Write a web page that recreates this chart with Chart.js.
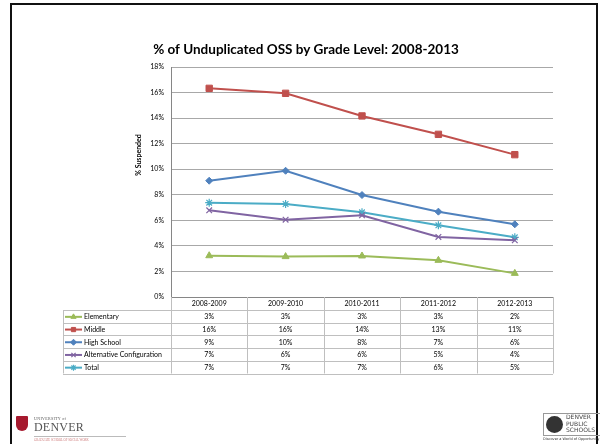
<!DOCTYPE html>
<html>
<head>
<meta charset="utf-8">
<script src="https://cdn.jsdelivr.net/npm/chart.js@4.4.0/dist/chart.umd.min.js"></script>
<style>
  body { margin: 0; background: #fff; }
  #wrap { position: relative; width: 600px; height: 444px; overflow: hidden; }
  #frame { position: absolute; left: 10px; top: 3px; width: 584px; height: 520px; border: 2px solid #111; }
  .du { position: absolute; left: 16px; top: 416px; font-family: "Liberation Serif", serif; color: #555; }
  .du .shield { position: absolute; left: 0; top: 0; width: 12px; height: 15px; background: #a6192e; border-radius: 1px 1px 6px 6px; }
  .du .small { position: absolute; left: 18px; top: 0; font-size: 4px; letter-spacing: 0.3px; white-space: nowrap; }
  .du .big { position: absolute; left: 18px; top: 4px; font-size: 12px; letter-spacing: 0.2px; }
  .du .tag { position: absolute; left: 18px; top: 20px; width: 92px; font-size: 3px; color: #c77; border-top: 1px solid #bbb; padding-top: 1px; white-space: nowrap; }
  .dps { position: absolute; left: 543px; top: 413px; width: 60px; height: 21px; border: 1px solid #999; font-family: "DejaVu Sans", sans-serif; }
  .dps .seal { position: absolute; left: 2px; top: 2px; width: 17px; height: 17px; border-radius: 50%; background: #333; }
  .dps .txt { position: absolute; left: 22px; top: 0px; font-size: 6px; line-height: 6.7px; color: #444; }
  .dps-tag { position: absolute; left: 543px; top: 437px; font-size: 3.5px; color: #333; font-family: "DejaVu Sans", sans-serif; white-space: nowrap; }
</style>
</head>
<body>
<div id="wrap">
  <canvas id="chart" width="600" height="444"></canvas>
  <div id="frame"></div>
  <div class="du">
    <div class="shield"></div>
    <div class="small">UNIVERSITY of</div>
    <div class="big">DENVER</div>
    <div class="tag">GRADUATE SCHOOL OF SOCIAL WORK</div>
  </div>
  <div class="dps">
    <div class="seal"></div>
    <div class="txt">DENVER<br>PUBLIC<br>SCHOOLS</div>
  </div>
  <div class="dps-tag">Discover a World of Opportunity</div>
</div>
<script>
const seasons = ['2008-2009', '2009-2010', '2010-2011', '2011-2012', '2012-2013'];
const elementary = [3.23, 3.16, 3.21, 2.87, 1.85];
const middle = [16.33, 15.94, 14.17, 12.73, 11.14];
const highSchool = [9.10, 9.88, 7.98, 6.68, 5.69];
const altConfig = [6.78, 6.05, 6.39, 4.70, 4.44];
const total = [7.38, 7.28, 6.63, 5.61, 4.67];
const yTicks = [0, 2, 4, 6, 8, 10, 12, 14, 16, 18];

const FONT = 'Lato, "Open Sans", sans-serif';

function series(label, data, color, style, radius) {
    return {
        label: label,
        data: data,
        borderColor: color,
        backgroundColor: color,
        borderWidth: 2,
        pointStyle: style,
        pointRadius: radius,
        pointBorderWidth: style === 'crossRot' || style === 'star' ? 1.2 : 1,
        tension: 0
    };
}

// draws title, y axis title and the data table under the plot
const tablePlugin = {
    id: 'dataTable',
    afterDraw(chart) {
        const ctx = chart.ctx;
        const a = chart.chartArea;
        const x = chart.scales.x;
        const sets = chart.data.datasets;
        const colW = (a.right - a.left) / seasons.length;
        const headTop = a.bottom;
        const headH = 13;
        const rowH = 12.7;
        const legLeft = 63;
        const bottom = headTop + headH + rowH * sets.length;

        ctx.save();
        ctx.fillStyle = '#000';
        ctx.font = 'bold 13.5px ' + FONT;
        ctx.textAlign = 'center';
        ctx.textBaseline = 'alphabetic';
        ctx.fillText('% of Unduplicated OSS by Grade Level: 2008-2013', 306, 54);

        ctx.save();
        ctx.translate(139, 155);
        ctx.rotate(-Math.PI / 2);
        ctx.font = 'bold 7px ' + FONT;
        ctx.textBaseline = 'middle';
        ctx.fillText('% Suspended', 0, 0);
        ctx.restore();

        ctx.strokeStyle = '#bfbfbf';
        ctx.lineWidth = 1;
        ctx.beginPath();
        for (let i = 0; i <= seasons.length; i++) {
            const px = Math.round(a.left + colW * i) + 0.5;
            ctx.moveTo(px, headTop);
            ctx.lineTo(px, bottom);
        }
        ctx.moveTo(legLeft + 0.5, headTop + headH);
        ctx.lineTo(legLeft + 0.5, bottom);
        for (let r = 0; r <= sets.length; r++) {
            const py = Math.round(headTop + headH + rowH * r) + 0.5;
            ctx.moveTo(legLeft, py);
            ctx.lineTo(a.right, py);
        }
        ctx.stroke();

        ctx.font = '7px ' + FONT;
        ctx.fillStyle = '#000';
        ctx.textAlign = 'center';
        ctx.textBaseline = 'middle';
        seasons.forEach((s, i) => {
            ctx.fillText(s, x.getPixelForValue(i), headTop + headH / 2 + 0.5);
        });

        sets.forEach((ds, r) => {
            const cy = headTop + headH + rowH * r + rowH / 2 + 0.5;
            ds.data.forEach((v, i) => {
                ctx.textAlign = 'center';
                ctx.fillStyle = '#000';
                ctx.fillText(Math.round(v) + '%', x.getPixelForValue(i), cy);
            });
            ctx.strokeStyle = ds.borderColor;
            ctx.fillStyle = ds.backgroundColor;
            ctx.lineWidth = 2;
            ctx.beginPath();
            ctx.moveTo(65, cy);
            ctx.lineTo(82, cy);
            ctx.stroke();
            ctx.lineWidth = ds.pointBorderWidth;
            Chart.helpers.drawPoint(ctx, {
                pointStyle: ds.pointStyle,
                radius: Math.min(ds.pointRadius, 3),
                rotation: 0,
                borderWidth: ds.pointBorderWidth
            }, 73.5, cy);
            ctx.fillStyle = '#000';
            ctx.textAlign = 'left';
            ctx.fillText(ds.label, 84, cy);
        });
        ctx.restore();
    }
};

new Chart(document.getElementById('chart'), {
    type: 'line',
    data: {
        labels: seasons,
        datasets: [
            series('Elementary', elementary, '#9bbb59', 'triangle', 4),
            series('Middle', middle, '#c0504d', 'rect', 4.5),
            series('High School', highSchool, '#4f81bd', 'rectRot', 3.5),
            series('Alternative Configuration', altConfig, '#8064a2', 'crossRot', 4),
            series('Total', total, '#4bacc6', 'star', 4)
        ]
    },
    options: {
        responsive: false,
        animation: false,
        layout: { padding: { top: 67, right: 47, bottom: 147, left: 0 } },
        plugins: {
            legend: { display: false },
            tooltip: { enabled: false },
            title: { display: false }
        },
        scales: {
            x: {
                offset: true,
                grid: { display: false },
                ticks: { display: false },
                border: { display: true, color: '#868686', width: 1 },
                afterFit: s => { s.height = 0; }
            },
            y: {
                min: 0,
                max: 18,
                afterBuildTicks: s => { s.ticks = yTicks.map(v => ({ value: v })); },
                afterFit: s => { s.width = 171; },
                ticks: {
                    padding: 7,
                    color: '#000',
                    font: { family: FONT, size: 7 },
                    callback: v => v + '%'
                },
                grid: { color: '#a8a8a8', drawTicks: false },
                border: { color: '#868686', width: 1 }
            }
        }
    },
    plugins: [tablePlugin]
});
</script>
</body>
</html>
